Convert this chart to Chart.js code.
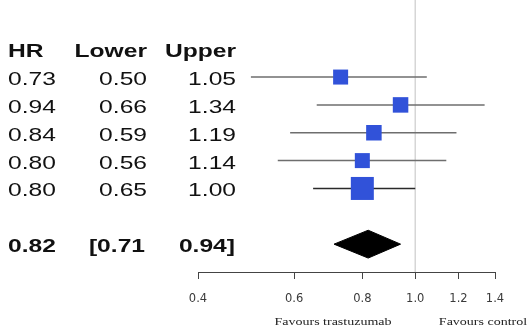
<!DOCTYPE html>
<html><head><meta charset="utf-8">
<script src="https://cdn.jsdelivr.net/npm/chart.js@4.4.0/dist/chart.umd.min.js"></script>
<style>html,body{margin:0;padding:0;background:#fff;}#wrap{width:530px;height:326px;position:relative;}</style>
</head><body><div id="wrap"><canvas id="c" width="530" height="326"></canvas></div>
<script>
// ---- data ----
const hr    = [0.73, 0.94, 0.84, 0.80, 0.80];
const lower = [0.50, 0.66, 0.59, 0.56, 0.65];
const upper = [1.05, 1.34, 1.19, 1.14, 1.00];
const pooledHR = 0.82, pooledLower = 0.71, pooledUpper = 0.94;
const headers = ['HR', 'Lower', 'Upper'];
const tickValues = [0.4, 0.6, 0.8, 1.0, 1.2, 1.4];
const tickLabels = ['0.4', '0.6', '0.8', '1.0', '1.2', '1.4'];
const favourLeft = 'Favours trastuzumab', favourRight = 'Favours control';

// ---- styles ----
const boxSide = [15, 15.5, 15.5, 15, 23];
const ciColors = ['#6e6e6e', '#6e6e6e', '#6e6e6e', '#6e6e6e', '#2a2a2a'];
const BLUE = '#3152d9';
const Y_MIN = -1.767, Y_MAX = 8;
const POOLED_ROW = 7;

const datasets = [];
datasets.push({type:'line', data:[{x:1,y:Y_MIN},{x:1,y:Y_MAX}], borderColor:'#d6d6d6', borderWidth:1.5, pointRadius:0, order:3});
hr.forEach((v,i)=>{
  datasets.push({type:'line', data:[{x:lower[i],y:i+1},{x:upper[i],y:i+1}], borderColor:ciColors[i], borderWidth:1.5, pointRadius:0, order:2});
});
datasets.push({type:'scatter', data:hr.map((v,i)=>({x:v,y:i+1})), pointStyle:'rect',
  pointRadius:(c)=>boxSide[c.dataIndex]/Math.SQRT2, backgroundColor:BLUE, borderWidth:0, order:1});
datasets.push({type:'line', data:[
  {x:pooledLower,y:POOLED_ROW},{x:pooledHR,y:POOLED_ROW-0.5},{x:pooledUpper,y:POOLED_ROW},{x:pooledHR,y:POOLED_ROW+0.5},{x:pooledLower,y:POOLED_ROW}],
  fill:'shape', backgroundColor:'#000', borderColor:'#000', borderWidth:1, pointRadius:0, tension:0, order:0});

function sText(ctx, text, x, y, align, sx){
  ctx.save(); ctx.translate(x,y); ctx.scale(sx,1); ctx.textAlign=align; ctx.fillText(text,0,0); ctx.restore();
}

const textPlugin = {
  id:'textPlugin',
  afterDraw(chart){
    const ctx = chart.ctx, ys = chart.scales.y;
    const sx = 1.33;
    ctx.save();
    ctx.fillStyle = '#111'; ctx.textBaseline = 'alphabetic';
    const colL = 8, col2R = 147, col3R = 236;
    let y = ys.getPixelForValue(0) + 8;
    ctx.font = 'bold 18.5px "Liberation Sans", Arial, sans-serif';
    sText(ctx, headers[0], colL, y, 'left', sx);
    sText(ctx, headers[1], col2R, y, 'right', sx);
    sText(ctx, headers[2], col3R, y, 'right', sx);
    ctx.font = '18.5px "Liberation Sans", Arial, sans-serif';
    hr.forEach((v,i)=>{
      const yy = ys.getPixelForValue(i+1) + 8;
      sText(ctx, v.toFixed(2), colL, yy, 'left', sx);
      sText(ctx, lower[i].toFixed(2), col2R, yy, 'right', sx);
      sText(ctx, upper[i].toFixed(2), col3R, yy, 'right', sx);
    });
    ctx.font = 'bold 18.5px "Liberation Sans", Arial, sans-serif';
    const yp = ys.getPixelForValue(POOLED_ROW) + 8;
    sText(ctx, pooledHR.toFixed(2), colL, yp, 'left', sx);
    sText(ctx, '[' + pooledLower.toFixed(2), col2R - 2, yp, 'right', sx);
    sText(ctx, pooledUpper.toFixed(2) + ']', col3R - 1, yp, 'right', sx);
    ctx.font = '10px "Liberation Serif", "Times New Roman", serif';
    ctx.fillStyle = '#222';
    sText(ctx, favourLeft, 333, 325, 'center', 1.4);
    sText(ctx, favourRight, 483, 325, 'center', 1.4);
    ctx.restore();
  }
};

new Chart(document.getElementById('c'), {
  type:'scatter',
  data:{datasets},
  options:{
    responsive:false, animation:false, events:[],
    layout:{autoPadding:false, padding:{left:198, right:35, top:0, bottom:0}},
    plugins:{legend:{display:false}, tooltip:{enabled:false}},
    scales:{
      x:{type:'logarithmic', min:0.4, max:1.4, offset:false,
        afterBuildTicks:(s)=>{ s.ticks = tickValues.map(v=>({value:v})); },
        afterFit:(s)=>{ s.height = 54; },
        ticks:{autoSkip:false, maxRotation:0, padding:13, color:'#3a3a3a',
          font:{family:'"DejaVu Sans", sans-serif', size:11.5},
          callback:(v)=>{ const k = tickValues.indexOf(v); return k>=0 ? tickLabels[k] : ''; }},
        grid:{drawOnChartArea:false, drawTicks:true, tickLength:7, color:'#444', lineWidth:1},
        border:{display:true, color:'#444', width:1}
      },
      y:{type:'linear', min:Y_MIN, max:Y_MAX, reverse:true, display:false}
    }
  },
  plugins:[textPlugin]
});
</script></body></html>
